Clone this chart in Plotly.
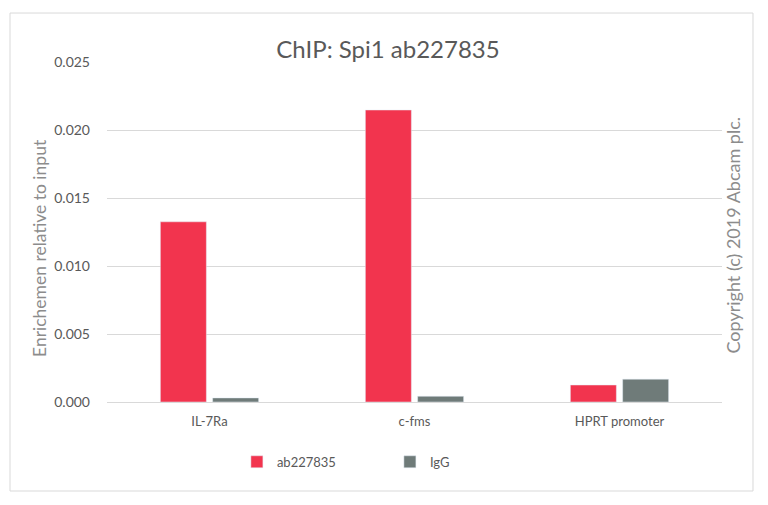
import plotly.graph_objects as go

# ChIP enrichment
targets = ["IL-7Ra", "c-fms", "HPRT promoter"]
ab227835 = [0.01325, 0.02147, 0.00125]
igg = [0.00030, 0.00042, 0.00168]
y_ticks = [0.000, 0.005, 0.010, 0.015, 0.020, 0.025]

RED = "#F2344E"
GREY = "#6F7B79"
TEXT = "#595959"
LIGHT = "#8C8C8C"

fig = go.Figure(data=[
    go.Bar(name="ab227835", x=targets, y=ab227835, marker_color=RED),
    go.Bar(name="IgG", x=targets, y=igg, marker_color=GREY),
])

# page body adds an 8px offset, so the figure is 8px smaller and margins shifted
fig.update_layout(
    width=760,
    height=497,
    margin=dict(l=99, r=46, t=54, b=103),
    paper_bgcolor="white",
    plot_bgcolor="white",
    font=dict(family="Lato, DejaVu Sans, sans-serif", color=TEXT, size=13),
    barmode="group",
    bargap=0.49,
    bargroupgap=0.12,
    title=dict(
        text="ChIP: Spi1 ab227835",
        x=0.5, xanchor="center",
        y=0.9155, yanchor="middle",
        font=dict(size=24, color=TEXT),
    ),
    legend=dict(
        orientation="h",
        x=0.46, xanchor="center",
        y=-0.176, yanchor="middle",
        font=dict(size=13, color=TEXT),
        itemwidth=30,
        entrywidth=108,
    ),
    xaxis=dict(
        showline=True,
        linecolor="#D9D9D9",
        linewidth=1,
        ticks="",
        tickfont=dict(size=13, color=TEXT),
        ticklabelstandoff=7,
        showgrid=False,
    ),
    yaxis=dict(
        range=[0, 0.025],
        tickvals=y_ticks,
        tickformat=".3f",
        showgrid=True,
        gridcolor="#D9D9D9",
        zeroline=False,
        showline=False,
        tickfont=dict(size=14, color=TEXT),
        ticklabelstandoff=16,
    ),
    shapes=[
        # outer chart border
        dict(type="rect", xref="paper", yref="paper",
             x0=-0.1577, x1=1.0504, y0=-0.2618, y1=1.144,
             line=dict(color="#D9D9D9", width=1), layer="below"),
    ],
    annotations=[
        dict(text="Enrichemen relative to input", textangle=-90,
             xref="paper", yref="paper", x=-0.109, y=0.453,
             xanchor="center", yanchor="middle", showarrow=False,
             font=dict(size=17.5, color=LIGHT)),
        dict(text="Copyright (c) 2019 Abcam plc.", textangle=-90,
             xref="paper", yref="paper", x=1.018, y=0.49,
             xanchor="center", yanchor="middle", showarrow=False,
             font=dict(size=18, color=LIGHT)),
    ],
)

fig.write_html("out.html")
